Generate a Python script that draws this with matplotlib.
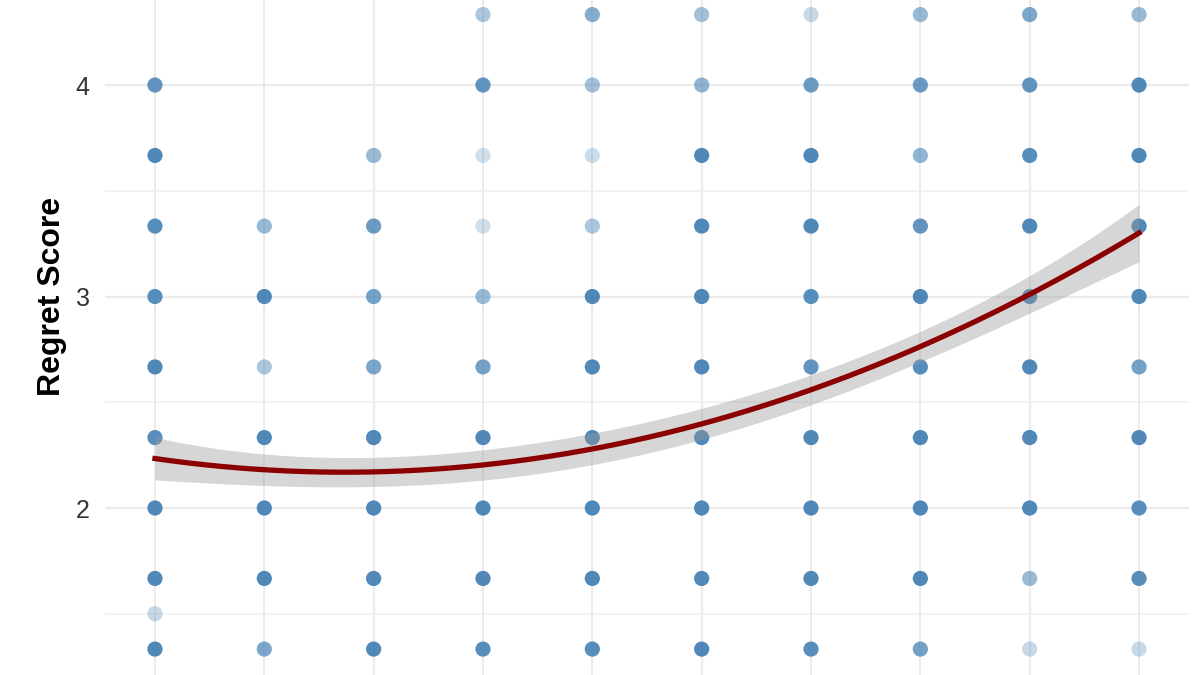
import matplotlib
matplotlib.use("Agg")
import matplotlib.pyplot as plt
import numpy as np

# x positions (10 groups) and the discrete score levels
x_groups = np.arange(1, 11)
score_levels = [4.333, 4.0, 3.667, 3.333, 3.0, 2.667, 2.333, 2.0, 1.667, 1.5, 1.333]

# opacity of each dot (0 = no point), rows follow score_levels
point_density = [
    [0.00, 0.00, 0.00, 0.45, 0.65, 0.50, 0.30, 0.55, 0.70, 0.55],
    [0.85, 0.00, 0.00, 0.85, 0.50, 0.60, 0.80, 0.80, 0.85, 0.95],
    [0.95, 0.00, 0.55, 0.25, 0.28, 0.95, 0.95, 0.60, 0.90, 0.95],
    [0.90, 0.55, 0.80, 0.25, 0.45, 0.95, 0.95, 0.85, 0.95, 0.95],
    [0.90, 0.95, 0.75, 0.55, 0.95, 0.95, 0.90, 0.95, 0.95, 0.95],
    [0.95, 0.45, 0.70, 0.75, 0.95, 0.95, 0.85, 0.90, 0.95, 0.75],
    [0.90, 0.95, 0.95, 0.95, 0.95, 0.95, 0.95, 0.95, 0.95, 0.95],
    [0.95, 0.95, 0.95, 0.95, 0.95, 0.95, 0.95, 0.95, 0.95, 0.90],
    [0.95, 0.95, 0.95, 0.95, 0.95, 0.95, 0.95, 0.95, 0.55, 0.90],
    [0.30, 0.00, 0.00, 0.00, 0.00, 0.00, 0.00, 0.00, 0.00, 0.00],
    [0.95, 0.70, 0.95, 0.90, 0.90, 0.95, 0.90, 0.75, 0.30, 0.30],
]

# fitted curve and half width of the confidence band, read at each group
fit_values = [2.232, 2.188, 2.167, 2.195, 2.29, 2.392, 2.558, 2.77, 3.007, 3.30]
band_halfwidth = [0.100, 0.076, 0.069, 0.070, 0.075, 0.072, 0.072, 0.075, 0.085, 0.137]

y_ticks = [2, 3, 4]
y_minor = [1.5, 2.5, 3.5]

fig = plt.figure(figsize=(12, 6.75), dpi=100)
ax = fig.add_axes([105 / 1200, 0, (1189 - 105) / 1200, 1])
ax.set_xlim(0.543, 10.457)
ax.set_ylim(1.2104, 4.402)

# grid (drawn by hand, theme_minimal look)
for xv in x_groups:
    ax.axvline(xv, color="#EBEBEB", lw=1.4, zorder=0)
for yv in y_ticks:
    ax.axhline(yv, color="#EBEBEB", lw=1.6, zorder=0)
for yv in y_minor:
    ax.axhline(yv, color="#F0F0F0", lw=1.2, zorder=0)

# dots
dens = np.array(point_density)
xs, ys, cols = [], [], []
base = matplotlib.colors.to_rgb("#4682B4")
for i, yv in enumerate(score_levels):
    for j, xv in enumerate(x_groups):
        a = dens[i, j]
        if a <= 0:
            continue
        xs.append(xv)
        ys.append(yv)
        cols.append((*base, a))
ax.scatter(xs, ys, s=120, c=cols, linewidths=0, zorder=2)

# smooth quadratic trend with band
x_fine = np.linspace(1, 10, 300)
fit_curve = np.polyval(np.polyfit(x_groups, fit_values, 2), x_fine)
hw_curve = np.polyval(np.polyfit(x_groups, band_halfwidth, 4), x_fine)
ax.fill_between(x_fine, fit_curve - hw_curve, fit_curve + hw_curve,
                color="#999999", alpha=0.4, linewidth=0, zorder=3)
ax.plot(x_fine, fit_curve, color="#8B0000", lw=3.8, zorder=4)

for s in ax.spines.values():
    s.set_visible(False)
ax.set_xticks([])
ax.set_yticks(y_ticks)
ax.set_yticklabels([str(t) for t in y_ticks], fontsize=18, color="#333333",
                   family="Liberation Sans")
ax.tick_params(axis="y", length=0, pad=11)

fig.text(52 / 1200, 1 - 296.5 / 675, "Regret Score", rotation=90, ha="center",
         va="center", fontsize=23, fontweight="bold", family="Liberation Sans")

fig.savefig("out.png", dpi=100)
